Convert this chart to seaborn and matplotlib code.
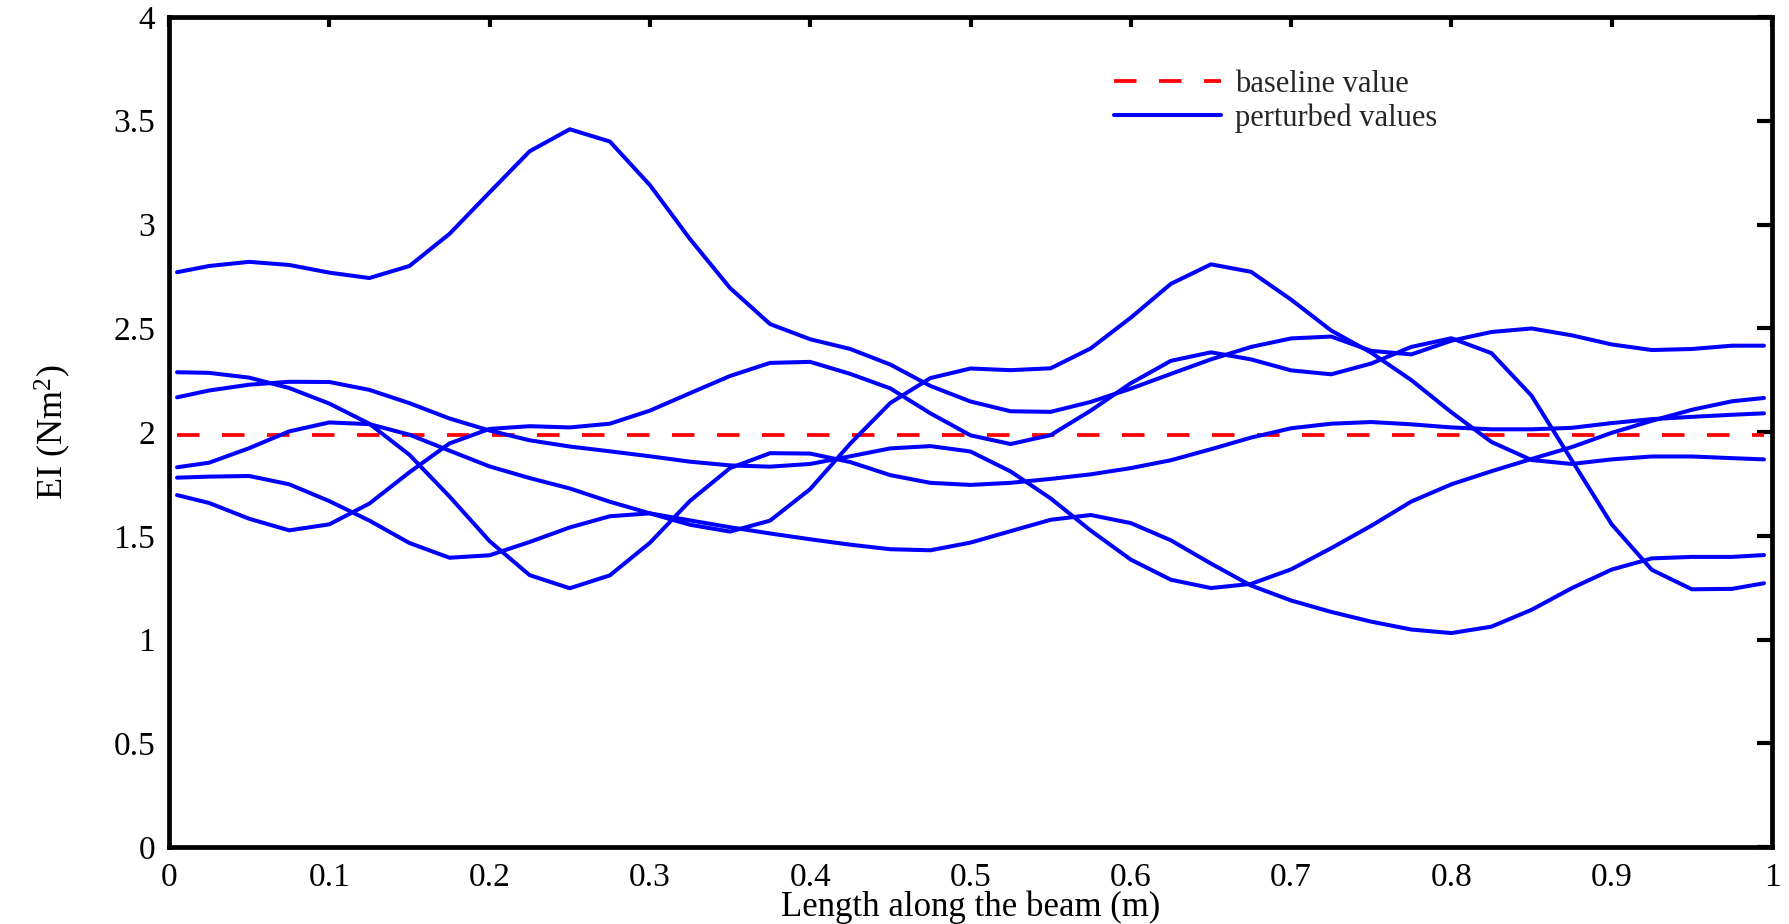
import matplotlib
matplotlib.use("Agg")
import matplotlib.pyplot as plt
from matplotlib.lines import Line2D
import pandas as pd
import seaborn as sns

# ---------------- data ----------------
x_pos = [0.005, 0.025, 0.05, 0.075, 0.10, 0.125, 0.15, 0.175, 0.20, 0.225,
         0.25, 0.275, 0.30, 0.325, 0.35, 0.375, 0.40, 0.425, 0.45, 0.475,
         0.50, 0.525, 0.55, 0.575, 0.60, 0.625, 0.65, 0.675, 0.70, 0.725,
         0.75, 0.775, 0.80, 0.825, 0.85, 0.875, 0.90, 0.925, 0.95, 0.975, 0.995]

ei_curve_1 = [2.770, 2.800, 2.820, 2.805, 2.768, 2.742, 2.800, 2.955, 3.155, 3.353,
              3.459, 3.400, 3.190, 2.930, 2.694, 2.520, 2.447, 2.400, 2.325, 2.222,
              2.147, 2.100, 2.097, 2.145, 2.209, 2.280, 2.350, 2.410, 2.451, 2.460,
              2.391, 2.374, 2.440, 2.482, 2.499, 2.466, 2.422, 2.395, 2.400, 2.416, 2.416]

ei_curve_2 = [2.288, 2.285, 2.262, 2.212, 2.137, 2.040, 1.890, 1.689, 1.474, 1.310,
              1.247, 1.309, 1.466, 1.668, 1.826, 1.898, 1.896, 1.855, 1.792, 1.755,
              1.745, 1.755, 1.774, 1.796, 1.826, 1.864, 1.917, 1.973, 2.018, 2.040,
              2.048, 2.037, 2.022, 2.013, 2.013, 2.020, 2.043, 2.062, 2.073, 2.083, 2.090]

ei_curve_3 = [2.167, 2.200, 2.228, 2.242, 2.241, 2.203, 2.139, 2.065, 2.007, 1.960,
              1.930, 1.907, 1.883, 1.857, 1.839, 1.833, 1.846, 1.883, 1.921, 1.932,
              1.906, 1.810, 1.680, 1.525, 1.385, 1.288, 1.248, 1.268, 1.338, 1.440,
              1.548, 1.665, 1.748, 1.811, 1.870, 1.927, 1.996, 2.054, 2.107, 2.148, 2.164]

ei_curve_4 = [1.830, 1.852, 1.922, 2.003, 2.046, 2.038, 1.987, 1.910, 1.834, 1.778,
              1.728, 1.664, 1.608, 1.553, 1.520, 1.573, 1.725, 1.944, 2.140, 2.260,
              2.306, 2.298, 2.307, 2.403, 2.551, 2.714, 2.808, 2.772, 2.638, 2.489,
              2.382, 2.250, 2.095, 1.952, 1.865, 1.846, 1.868, 1.882, 1.882, 1.874, 1.868]

ei_curve_5 = [1.780, 1.785, 1.788, 1.748, 1.667, 1.573, 1.465, 1.394, 1.406, 1.470,
              1.540, 1.594, 1.608, 1.574, 1.541, 1.511, 1.483, 1.457, 1.435, 1.430,
              1.467, 1.522, 1.577, 1.600, 1.561, 1.478, 1.366, 1.260, 1.188, 1.133,
              1.086, 1.048, 1.031, 1.062, 1.143, 1.247, 1.337, 1.391, 1.398, 1.398, 1.407]

ei_curve_6 = [1.696, 1.658, 1.582, 1.526, 1.555, 1.655, 1.806, 1.945, 2.015, 2.028,
              2.022, 2.040, 2.103, 2.187, 2.270, 2.333, 2.338, 2.280, 2.210, 2.090,
              1.984, 1.942, 1.985, 2.103, 2.235, 2.343, 2.384, 2.350, 2.297, 2.278,
              2.330, 2.410, 2.452, 2.380, 2.175, 1.865, 1.555, 1.336, 1.242, 1.244, 1.271]

baseline_x = [0.005, 0.995]
baseline_value = [1.985, 1.985]

x_ticks = [0, 0.1, 0.2, 0.3, 0.4, 0.5, 0.6, 0.7, 0.8, 0.9, 1.0]
x_tick_labels = ["0", "0.1", "0.2", "0.3", "0.4", "0.5", "0.6", "0.7", "0.8", "0.9", "1"]
y_ticks = [0, 0.5, 1, 1.5, 2, 2.5, 3, 3.5, 4]
y_tick_labels = ["0", "0.5", "1", "1.5", "2", "2.5", "3", "3.5", "4"]

legend_labels = ["baseline value", "perturbed values"]

# ---------------- long-form table ----------------
curves = {"c1": ei_curve_1, "c2": ei_curve_2, "c3": ei_curve_3,
          "c4": ei_curve_4, "c5": ei_curve_5, "c6": ei_curve_6}
frames = [pd.DataFrame({"x": x_pos, "EI": v, "curve": k}) for k, v in curves.items()]
df = pd.concat(frames, ignore_index=True)
base_df = pd.DataFrame({"x": baseline_x, "EI": baseline_value})

# ---------------- style ----------------
sns.set_theme(style="white")
plt.rcParams["font.family"] = ["Liberation Serif", "DejaVu Serif"]
plt.rcParams["mathtext.default"] = "regular"

fig = plt.figure(figsize=(17.9, 9.24), dpi=100)
ax = fig.add_axes([169 / 1790, 1 - 847 / 924, (1772 - 169) / 1790, (847 - 17) / 924])

RED = "#ff0000"
BLUE = "#0000ff"
DASH = (0, (6.0, 6.0))

sns.lineplot(data=base_df, x="x", y="EI", ax=ax, color=RED, lw=2.7,
             linestyle=DASH, legend=False, zorder=2)
sns.lineplot(data=df, x="x", y="EI", units="curve", estimator=None, sort=False,
             ax=ax, color=BLUE, lw=2.9, legend=False, zorder=3)

ax.set_xlim(0, 1)
ax.set_ylim(0, 4)
ax.set_xticks(x_ticks)
ax.set_xticklabels(x_tick_labels)
ax.set_yticks(y_ticks)
ax.set_yticklabels(y_tick_labels)

for s in ax.spines.values():
    s.set_visible(True)
    s.set_color("black")
    s.set_linewidth(3.4)

ax.tick_params(axis="both", which="major", direction="in", top=True, right=True,
               colors="black", width=3.0, labelsize=24)
ax.tick_params(axis="x", length=7, pad=11)
ax.tick_params(axis="y", length=11, pad=10)

ax.set_xlabel("Length along the beam (m)", fontsize=25, color="black")
ax.set_ylabel("EI (Nm$^2$)", fontsize=26, color="black")
ax.xaxis.set_label_coords(0.5, -(891 - 847) / 830)
ax.yaxis.set_label_coords(-0.06, 0.5)

handles = [Line2D([], [], color=RED, lw=2.7, linestyle=DASH),
           Line2D([], [], color=BLUE, lw=2.9)]
ax.legend(handles, legend_labels, loc="upper left",
          bbox_to_anchor=(1114 / 1790, 1 - 70 / 924), bbox_transform=fig.transFigure,
          frameon=False, fontsize=22, handlelength=3.5, handletextpad=0.45,
          labelspacing=0.15, borderpad=0, borderaxespad=0)

fig.savefig("out.png", dpi=100)
